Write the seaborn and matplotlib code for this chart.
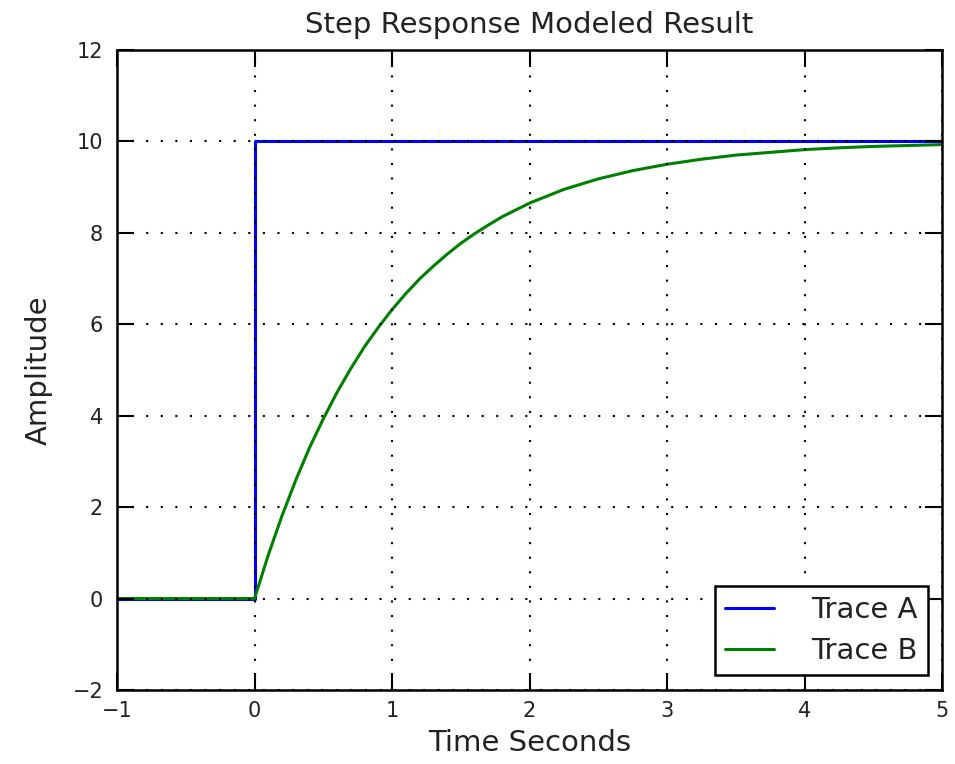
import matplotlib
matplotlib.use("Agg")
import matplotlib.pyplot as plt
import seaborn as sns
import pandas as pd

# Data
trace_a_t = [-1.0, 0.0, 0.0, 5.0]
trace_a_y = [0.0, 0.0, 10.0, 10.0]

trace_b_t = [-1.0, 0.0, 0.1, 0.2, 0.3, 0.4, 0.5, 0.6, 0.7, 0.8, 0.9, 1.0,
             1.1, 1.2, 1.3, 1.4, 1.5, 1.6, 1.7, 1.8, 1.9, 2.0, 2.25, 2.5,
             2.75, 3.0, 3.25, 3.5, 3.75, 4.0, 4.25, 4.5, 4.75, 5.0]
trace_b_y = [0.0, 0.0, 0.95, 1.81, 2.59, 3.30, 3.93, 4.51, 5.03, 5.51, 5.93, 6.32,
             6.67, 6.99, 7.27, 7.53, 7.77, 7.98, 8.17, 8.35, 8.50, 8.65, 8.95, 9.18,
             9.36, 9.50, 9.61, 9.70, 9.76, 9.82, 9.86, 9.89, 9.91, 9.93]

x_ticks = [-1, 0, 1, 2, 3, 4, 5]
y_ticks = [-2, 0, 2, 4, 6, 8, 10, 12]

df = pd.concat([
    pd.DataFrame({"t": trace_a_t, "y": trace_a_y, "trace": "Trace A"}),
    pd.DataFrame({"t": trace_b_t, "y": trace_b_y, "trace": "Trace B"}),
], ignore_index=True)

sns.set_style("white")
plt.rcParams['font.family'] = ['DejaVu Sans']

fig = plt.figure(figsize=(9.55, 7.64), dpi=100)
ax = fig.add_axes([0.1225, 0.0969, 0.864, 0.8377])

sns.lineplot(data=df, x="t", y="y", hue="trace", sort=False, estimator=None,
             palette={"Trace A": "#0000ff", "Trace B": "#008000"},
             linewidth=2.2, ax=ax)

ax.set_xlim(-1, 5)
ax.set_ylim(-2, 12)
ax.set_xticks(x_ticks)
ax.set_yticks(y_ticks)
ax.set_xticklabels([str(v).replace('-', '\u2212') for v in x_ticks])
ax.set_yticklabels([str(v).replace('-', '\u2212') for v in y_ticks])

ax.set_axisbelow(False)
ax.grid(True, color='black', linestyle=(0, (1, 6)), linewidth=1.5)

for s in ax.spines.values():
    s.set_color('black')
    s.set_linewidth(1.8)
    s.set_visible(True)

ax.tick_params(direction='in', length=12, width=1.5, top=True, right=True,
               bottom=True, left=True, labelsize=15, colors='black')
ax.tick_params(axis='y', pad=10)
ax.tick_params(axis='x', pad=8)
for lbl in ax.get_xticklabels() + ax.get_yticklabels():
    lbl.set_color('#222222')

ax.set_title("Step Response Modeled Result", fontsize=21, pad=12, color='#222222')
ax.set_xlabel("Time Seconds", fontsize=21, labelpad=6, color='#222222')
ax.set_ylabel("Amplitude", fontsize=21, labelpad=14, color='#222222')

leg = ax.legend(loc='lower right', fontsize=21, frameon=True, fancybox=False,
                framealpha=1, edgecolor='black', borderpad=0.35, labelspacing=0.45,
                handlelength=1.7, handletextpad=1.25, borderaxespad=0.5)
leg.get_frame().set_linewidth(1.8)
for t in leg.get_texts():
    t.set_color('#222222')
leg.set_title(None)

fig.savefig("out.png", dpi=100)
